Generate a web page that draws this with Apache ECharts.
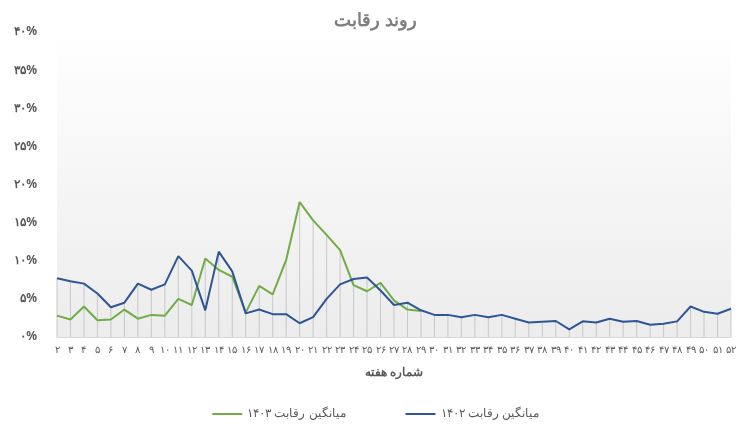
<!DOCTYPE html>
<html><head><meta charset="utf-8">
<script src="https://cdn.jsdelivr.net/npm/echarts@6/dist/echarts.min.js"></script>
<style>html,body{margin:0;padding:0;background:#fff}#c{width:751px;height:435px}</style>
</head><body><div id="c"></div>
<script>
const weeks = [];
for (let w = 2; w <= 52; w++) weeks.push(w);
const fa = s => String(s).replace(/\d/g, d => '۰۱۲۳۴۵۶۷۸۹'[d]);
const blue1402 = [7.7,7.3,7.0,5.7,3.9,4.5,7.0,6.2,6.9,10.6,8.7,3.5,11.2,8.6,3.1,3.6,3.0,3.0,1.8,2.6,5.0,6.9,7.6,7.8,6.1,4.2,4.5,3.5,2.9,2.9,2.6,2.9,2.6,2.9,2.4,1.9,2.0,2.1,1.0,2.05,1.9,2.4,2.0,2.1,1.6,1.75,2.05,4.0,3.3,3.05,3.7];
const green1403 = [2.8,2.3,4.0,2.2,2.3,3.6,2.4,2.9,2.8,5.0,4.2,10.3,8.8,7.9,3.2,6.7,5.6,10.1,17.7,15.3,13.4,11.4,6.8,6.0,7.1,4.8,3.6,3.4];
const yTicks = [0,5,10,15,20,25,30,35,40];
const drop = weeks.map((w,i)=>Math.max(blue1402[i], green1403[i] ?? 0));
const chart = echarts.init(document.getElementById('c'));
chart.setOption({
  animation:false,
  title:{text:'روند رقابت',left:'center',top:7,textStyle:{fontFamily:'Noto Sans',fontSize:18,fontWeight:'bold',color:'#7f7f7f'}},
  grid:{left:57,right:20,top:32,bottom:98,show:true,borderWidth:0,
    backgroundColor:new echarts.graphic.LinearGradient(0,0,0,1,[{offset:0,color:'#ffffff'},{offset:1,color:'#ececec'}])},
  legend:{bottom:10,itemGap:60,itemWidth:30,itemHeight:2,icon:'rect',
    textStyle:{fontFamily:'Noto Sans',fontSize:12,color:'#595959'},
    data:['میانگین رقابت ۱۴۰۳','میانگین رقابت ۱۴۰۲']},
  xAxis:{type:'category',data:weeks,boundaryGap:false,name:'شماره هفته',nameLocation:'middle',nameGap:30,
    nameTextStyle:{fontFamily:'Noto Sans',fontSize:12,fontWeight:'bold',color:'#595959'},
    axisLine:{lineStyle:{color:'#d9d9d9'}},axisTick:{show:false},
    axisLabel:{interval:0,formatter:v=>fa(v),fontFamily:'Noto Sans',fontSize:10,color:'#595959'}},
  yAxis:{type:'value',min:0,max:40,interval:5,splitLine:{show:false},
    axisLabel:{formatter:v=>fa(v)+'%',fontFamily:'Noto Sans',fontSize:12,fontWeight:'bold',color:'#595959',margin:20}},
  series:[
    {type:'bar',data:drop,barWidth:1,itemStyle:{color:'#c8c8c8'},silent:true,z:1},
    {name:'میانگین رقابت ۱۴۰۳',type:'line',data:green1403,symbol:'none',lineStyle:{width:2,color:'#70ad47'},itemStyle:{color:'#70ad47'},z:3},
    {name:'میانگین رقابت ۱۴۰۲',type:'line',data:blue1402,symbol:'none',lineStyle:{width:2,color:'#2f5597'},itemStyle:{color:'#2f5597'},z:4}
  ]
});
</script></body></html>
